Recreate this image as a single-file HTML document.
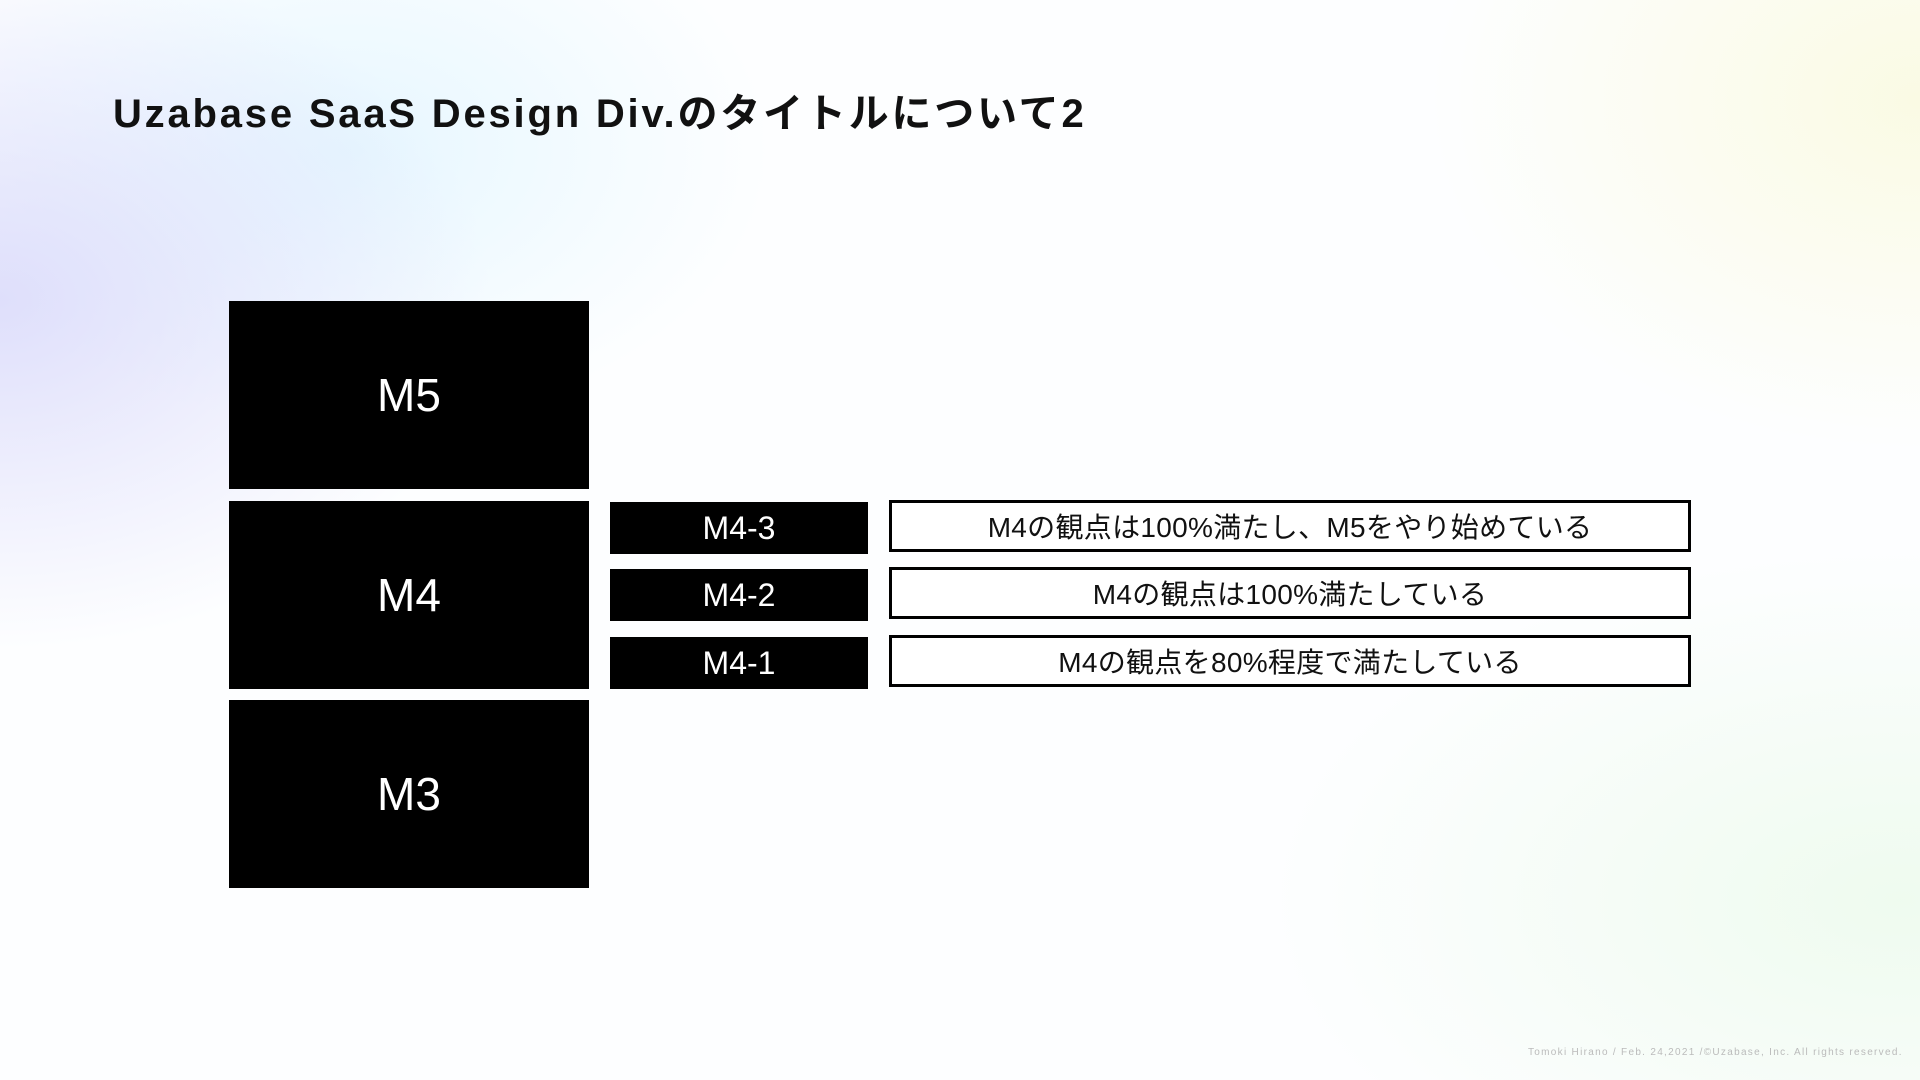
<!DOCTYPE html>
<html><head><meta charset="utf-8"><style>
html,body{margin:0;padding:0}
body{width:1920px;height:1080px;position:relative;overflow:hidden;font-family:"Liberation Sans","Noto Sans CJK JP",sans-serif;
background:
radial-gradient(ellipse 700px 500px at 0px 300px, rgba(215,215,250,0.8), rgba(215,215,250,0) 70%),
radial-gradient(ellipse 600px 400px at 350px 150px, rgba(225,245,255,0.8), rgba(225,245,255,0) 70%),
radial-gradient(ellipse 700px 500px at 1920px 100px, rgba(250,250,225,0.9), rgba(250,250,225,0) 70%),
radial-gradient(ellipse 900px 500px at 1900px 900px, rgba(235,250,235,0.8), rgba(235,250,235,0) 70%),
#fdfeff;}
.t{position:absolute;left:113px;top:81px;font-size:40px;font-weight:bold;color:#111;letter-spacing:2.8px}
.b{position:absolute;background:#000;color:#fff;display:flex;align-items:center;justify-content:center}
.big{left:229px;width:360px;height:188px;font-size:46px}
.sm{left:610px;width:258px;height:52px;font-size:32px}
.o{position:absolute;left:889px;width:796px;height:46px;border:3px solid #000;background:#fff;display:flex;align-items:center;justify-content:center;font-size:28px;color:#111;letter-spacing:0.3px}
.f{position:absolute;left:1528px;top:1047px;font-size:10px;color:#bbb;letter-spacing:1.3px}
</style></head><body>
<div class="t">Uzabase SaaS Design Div.のタイトルについて2</div>
<div class="b big" style="top:301px">M5</div>
<div class="b big" style="top:501px">M4</div>
<div class="b big" style="top:700px">M3</div>
<div class="b sm" style="top:502px">M4-3</div>
<div class="b sm" style="top:569px">M4-2</div>
<div class="b sm" style="top:637px">M4-1</div>
<div class="o" style="top:500px">M4の観点は100%満たし、M5をやり始めている</div>
<div class="o" style="top:567px">M4の観点は100%満たしている</div>
<div class="o" style="top:635px">M4の観点を80%程度で満たしている</div>
<div class="f">Tomoki Hirano / Feb. 24,2021 /©Uzabase, Inc. All rights reserved.</div>
</body></html>
